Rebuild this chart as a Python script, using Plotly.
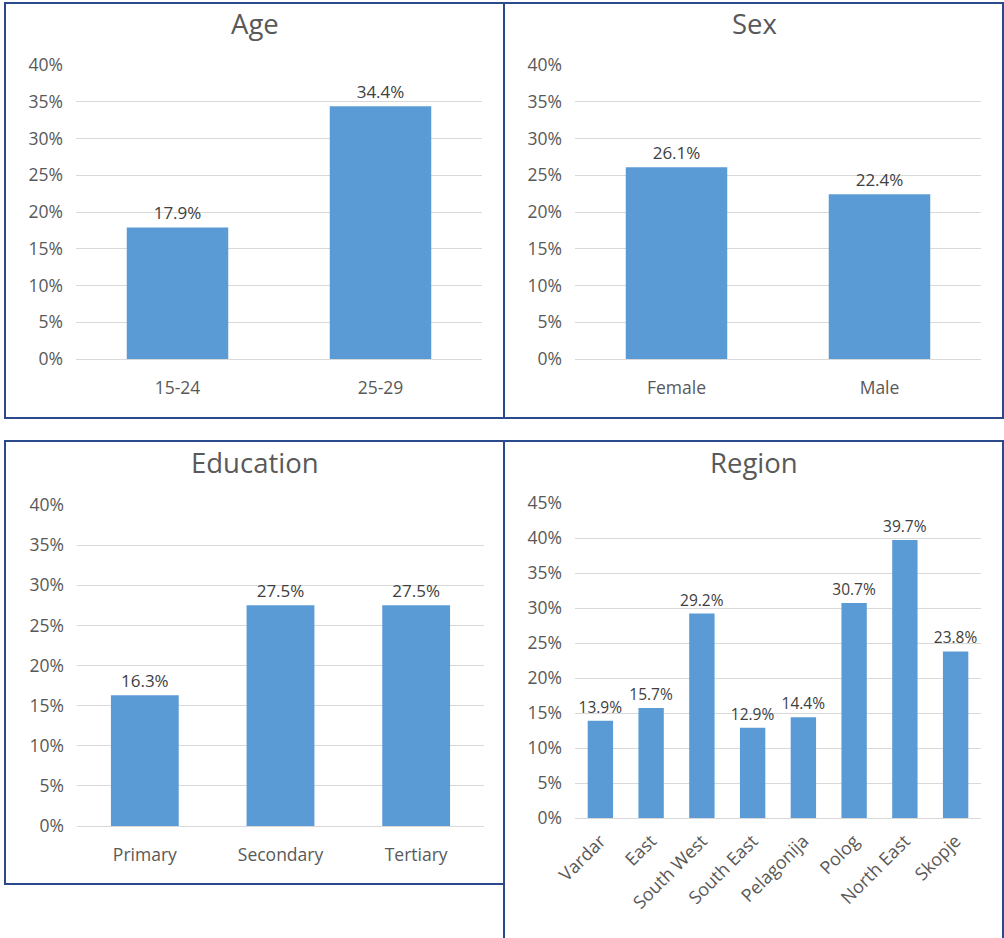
import plotly.graph_objects as go

# ---- data ----
age_cats = ["15-24", "25-29"]
age_vals = [17.9, 34.4]

sex_cats = ["Female", "Male"]
sex_vals = [26.1, 22.4]

edu_cats = ["Primary", "Secondary", "Tertiary"]
edu_vals = [16.3, 27.5, 27.5]

region_cats = ["Vardar", "East", "South West", "South East", "Pelagonija",
               "Polog", "North East", "Skopje"]
region_vals = [13.9, 15.7, 29.2, 12.9, 14.4, 30.7, 39.7, 23.8]

titles = ["Age", "Sex", "Education", "Region"]

# ---- layout helpers ----
W, H = 1004, 938
BAR = "#5B9BD5"
GRID = "#D9D9D9"
TICK = "#595959"
LABEL = "#404040"
BORDER = "#2B4A8B"
FONT = "Open Sans"


def px_x(v):
    return v / W


def px_y(v):
    return 1 - v / H


panels = [
    # (cats, vals, x-domain px, y-domain px (top, bottom), ymax, dtick,
    #  label size, tickangle, x standoff, x tick size)
    (age_cats, age_vals, (76, 482), (65, 359), 40, 5, 17, 0, 16, 17.5),
    (sex_cats, sex_vals, (575, 981), (65, 359), 40, 5, 17, 0, 16, 17.5),
    (edu_cats, edu_vals, (77, 484), (505, 826), 40, 5, 17, 0, 16, 17.5),
    (region_cats, region_vals, (575, 981), (503, 818), 45, 5, 15.5, -45, 8, 18),
]

fig = go.Figure()
layout = {}
for i, (cats, vals, xd, yd, ymax, dt, lsize, angle, xs, xsize) in enumerate(panels):
    n = "" if i == 0 else str(i + 1)
    fig.add_trace(go.Bar(
        x=cats, y=[v / 100 for v in vals],
        xaxis="x" + n, yaxis="y" + n,
        marker=dict(color=BAR, line=dict(width=0)),
        text=[f"{v:.1f}%" for v in vals],
        textposition="outside",
        constraintext="none",
        textfont=dict(family=FONT, size=lsize, color=LABEL),
        cliponaxis=False,
        showlegend=False,
        hoverinfo="skip",
    ))
    layout["xaxis" + n] = dict(
        domain=[px_x(xd[0]), px_x(xd[1])],
        anchor="y" + n,
        showgrid=False, zeroline=False, showline=False, ticks="",
        tickangle=angle,
        ticklabelstandoff=xs,
        tickfont=dict(family=FONT, size=xsize, color=TICK),
        automargin=False,
        fixedrange=True,
    )
    layout["yaxis" + n] = dict(
        domain=[px_y(yd[1]), px_y(yd[0])],
        anchor="x" + n,
        range=[0, ymax / 100],
        dtick=dt / 100,
        tickformat=".0%",
        showgrid=True, gridcolor=GRID, gridwidth=1,
        zeroline=True, zerolinecolor=GRID, zerolinewidth=1,
        showline=False, ticks="",
        ticklabelstandoff=12,
        tickfont=dict(family=FONT, size=17.5, color=TICK),
        automargin=False,
        fixedrange=True,
    )

# panel frames
shapes = []
frames = [(5, 3, 504, 418), (504, 3, 1003, 418),
          (5, 441, 504, 884), (504, 441, 1003, 950)]
for x0, y0, x1, y1 in frames:
    shapes.append(dict(type="rect", xref="paper", yref="paper",
                       x0=px_x(x0), x1=px_x(x1), y0=px_y(y1), y1=px_y(y0),
                       line=dict(color=BORDER, width=2), fillcolor="rgba(0,0,0,0)",
                       layer="above"))

# panel titles
annotations = []
title_pos = [(254.5, 24), (754, 24), (254.5, 463), (754, 463)]
for t, (cx, cy) in zip(titles, title_pos):
    annotations.append(dict(text=t, xref="paper", yref="paper",
                            x=px_x(cx), y=px_y(cy), xanchor="center", yanchor="middle",
                            showarrow=False,
                            font=dict(family=FONT, size=27.5, color=TICK)))

fig.update_layout(
    width=W, height=H,
    margin=dict(l=0, r=0, t=0, b=0, pad=0, autoexpand=False),
    paper_bgcolor="white", plot_bgcolor="white",
    bargap=0.5,
    shapes=shapes,
    annotations=annotations,
    font=dict(family=FONT, color=TICK),
    **layout,
)

fig.write_html("out.html")
